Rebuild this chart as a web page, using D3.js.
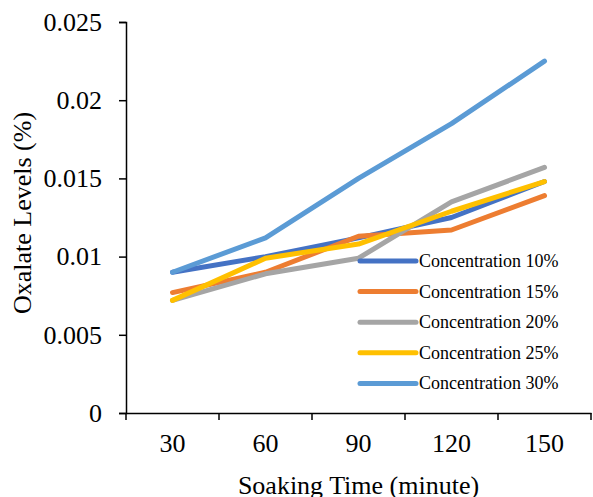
<!DOCTYPE html>
<html>
<head>
<meta charset="utf-8">
<script src="https://cdn.jsdelivr.net/npm/d3@7"></script>
<style>
  html, body { margin: 0; padding: 0; background: #fff; }
  svg text { font-family: "Liberation Serif", "Times New Roman", serif; fill: #000; }
</style>
</head>
<body>
<svg id="chart" width="593" height="497"></svg>
<script>
// Soaking times (minutes) along the x axis
const soakingTimes = ["30", "60", "90", "120", "150"];

// Oxalate level (%) for each soaking concentration
const seriesNames = ["Concentration 10%", "Concentration 15%", "Concentration 20%", "Concentration 25%", "Concentration 30%"];
const conc10 = [0.0090, 0.0100, 0.0112, 0.0125, 0.0148];
const conc15 = [0.0077, 0.0090, 0.0113, 0.0117, 0.0139];
const conc20 = [0.0072, 0.0089, 0.0099, 0.0135, 0.0157];
const conc25 = [0.0072, 0.0099, 0.0108, 0.0129, 0.0148];
const conc30 = [0.0090, 0.0112, 0.0150, 0.0185, 0.0225];
const seriesColors = ["#4472C4", "#ED7D31", "#A5A5A5", "#FFC000", "#5B9BD5"];

const yTicks = [0, 0.005, 0.01, 0.015, 0.02, 0.025];
const yTickLabels = ["0", "0.005", "0.01", "0.015", "0.02", "0.025"];

const series = [conc10, conc15, conc20, conc25, conc30].map((values, i) => ({
  name: seriesNames[i], color: seriesColors[i], values
}));

const svg = d3.select("#chart");
const plot = { left: 126, right: 591, top: 22, bottom: 413 };
const serif = "Liberation Serif";

const x = d3.scaleBand().domain(soakingTimes).range([plot.left, plot.right]);
const y = d3.scaleLinear().domain([0, 0.025]).range([plot.bottom, plot.top]);

// Y axis
const yAxis = svg.append("g")
  .attr("transform", `translate(${plot.left},0)`)
  .attr("font-family", serif)
  .call(d3.axisLeft(y).tickValues(yTicks).tickFormat((d, i) => yTickLabels[i]).tickSize(7).tickPadding(17));
yAxis.attr("font-family", serif).attr("font-size", 26);
yAxis.select(".domain").attr("stroke", "#000").attr("stroke-width", 1.5);
yAxis.selectAll(".tick line").attr("stroke", "#000").attr("stroke-width", 1.5);
yAxis.selectAll(".tick text").attr("font-size", 26).attr("font-family", serif);

// X axis with ticks on category boundaries
const xAxis = svg.append("g")
  .attr("transform", `translate(0,${plot.bottom})`)
  .call(d3.axisBottom(x).tickSize(0).tickPadding(21));
xAxis.attr("font-family", serif).attr("font-size", 26);
xAxis.select(".domain").attr("stroke", "#000").attr("stroke-width", 1.5);
xAxis.selectAll(".tick text").attr("font-size", 26).attr("font-family", serif);
const boundaries = soakingTimes.map(d => x(d)).concat([x(soakingTimes[soakingTimes.length - 1]) + x.bandwidth()]);
xAxis.selectAll("line.bound").data(boundaries).enter().append("line")
  .attr("class", "bound")
  .attr("x1", d => d).attr("x2", d => d)
  .attr("y1", 0).attr("y2", 7)
  .attr("stroke", "#000").attr("stroke-width", 1.5);

// Axis titles
svg.append("text")
  .attr("x", (plot.left + plot.right) / 2)
  .attr("y", 494)
  .attr("text-anchor", "middle")
  .attr("font-size", 26)
  .text("Soaking Time (minute)");

svg.append("text")
  .attr("transform", `translate(31,213) rotate(-90)`)
  .attr("text-anchor", "middle")
  .attr("font-size", 26)
  .text("Oxalate Levels (%)");

// Series lines
const line = d3.line()
  .x((d, i) => x(soakingTimes[i]) + x.bandwidth() / 2)
  .y(d => y(d));

svg.append("g").selectAll("path").data(series).enter().append("path")
  .attr("d", d => line(d.values))
  .attr("fill", "none")
  .attr("stroke", d => d.color)
  .attr("stroke-width", 5)
  .attr("stroke-linecap", "round")
  .attr("stroke-linejoin", "round");

// Legend
const legend = svg.append("g").attr("transform", "translate(360,261)");
const rows = legend.selectAll("g").data(series).enter().append("g")
  .attr("transform", (d, i) => `translate(0,${i * 30.6})`);
rows.append("line")
  .attr("x1", 0).attr("x2", 56).attr("y1", 0).attr("y2", 0)
  .attr("stroke", d => d.color)
  .attr("stroke-width", 5)
  .attr("stroke-linecap", "round");
rows.append("text")
  .attr("x", 59).attr("y", 6)
  .attr("font-size", 18)
  .text(d => d.name);
</script>
</body>
</html>
